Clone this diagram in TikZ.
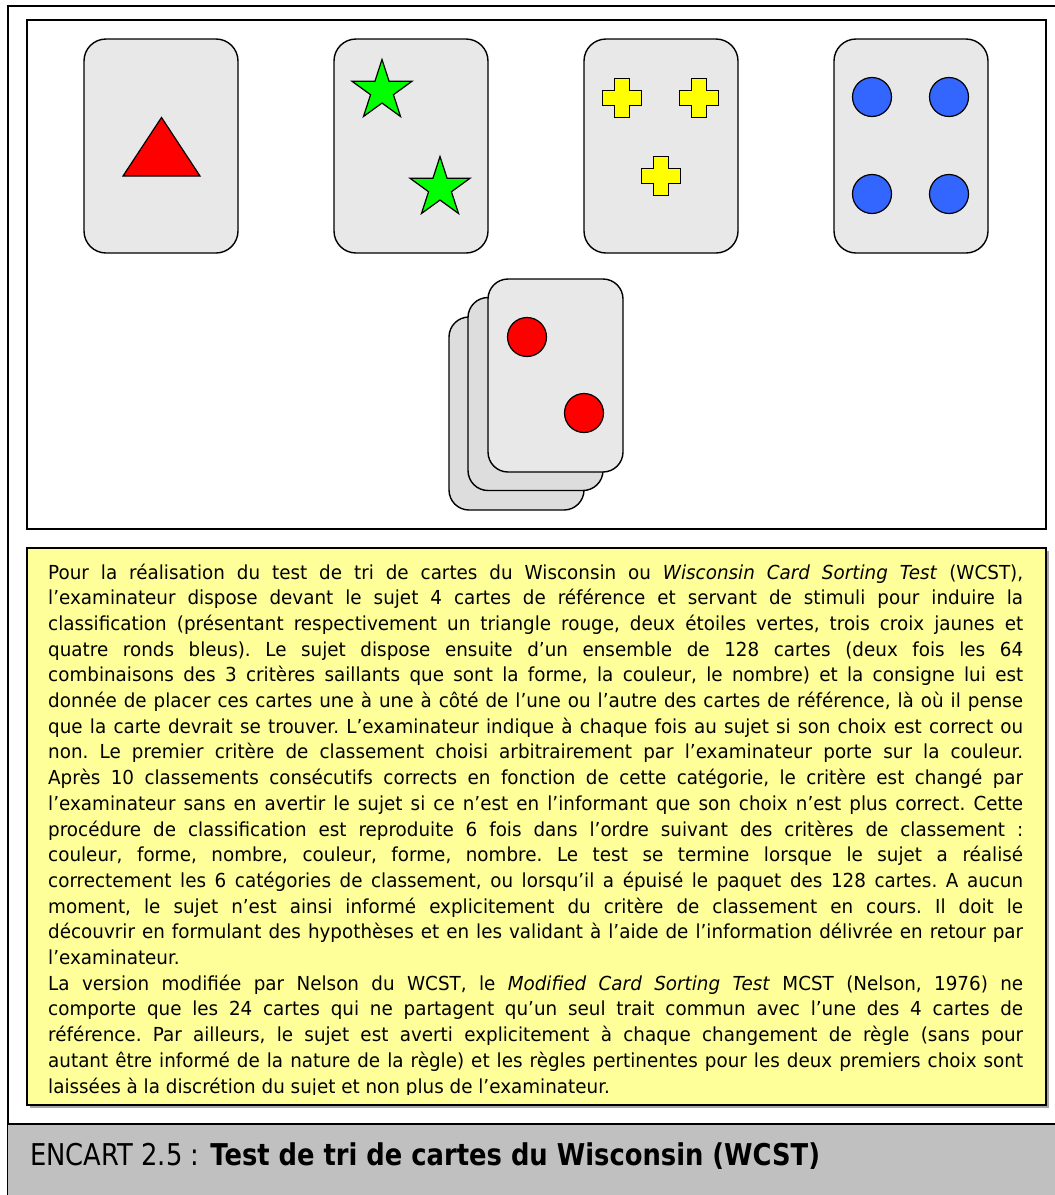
\documentclass[tikz,border=0pt]{standalone}
\usepackage{fontspec}
\setmainfont[FakeStretch=0.95]{DejaVu Sans}
\newfontfamily\capfont[FakeStretch=0.86]{DejaVu Sans}
\usetikzlibrary{shapes.geometric}
\definecolor{cardfill}{HTML}{E8E8E8}
\definecolor{cardback}{HTML}{DDDDDD}
\definecolor{notebg}{HTML}{FFFF99}
\definecolor{bandgray}{HTML}{C0C0C0}
\definecolor{stargreen}{HTML}{00FF00}
\definecolor{crossyellow}{HTML}{FFFF00}
\definecolor{dotblue}{HTML}{3366FF}
\definecolor{dotred}{HTML}{FF0000}
\tikzset{
  card/.style={draw=black, line width=1.4pt, fill=cardfill, rounded corners=22pt,
    minimum width=154pt, minimum height=214pt, inner sep=0pt},
  stackcard/.style={card, minimum width=135pt, minimum height=193pt, rounded corners=20pt},
  symb/.style={draw=black, line width=1.2pt},
  dot/.style={symb, circle, minimum size=39pt, inner sep=0pt},
  starsym/.style={symb, fill=stargreen, star, star points=5, star point ratio=2.618,
    minimum size=63pt, inner sep=0pt},
  crosspic/.pic={\draw[symb, fill=crossyellow] (-7.5,-19.5) -- (7.5,-19.5) -- (7.5,-7.5)
    -- (19.5,-7.5) -- (19.5,7.5) -- (7.5,7.5) -- (7.5,19.5) -- (-7.5,19.5) -- (-7.5,7.5)
    -- (-19.5,7.5) -- (-19.5,-7.5) -- (-7.5,-7.5) -- cycle;},
  frame/.style={draw=black, line width=2pt},
}
\begin{document}
\begin{tikzpicture}[x=1pt,y=-1pt]
\useasboundingbox (0,0) rectangle (1055,1195);
\clip (0,0) rectangle (1055,1195);
\fill[white] (0,0) rectangle (1055,1195);
% outer frame (runs off the right and bottom edges)
\draw[line width=2.7pt] (8,1230) -- (8,6) -- (1090,6);
% caption band
\fill[bandgray] (8,1124) rectangle (1090,1230);
\draw[line width=2.7pt] (8,1124) -- (1090,1124);
\node[anchor=base west, inner sep=0pt, font=\capfont\fontsize{30}{36}\selectfont] (caption) at (30,1165)
  {ENCART 2.5 : \textbf{Test de tri de cartes du Wisconsin (WCST)}};
% picture frame
\draw[frame] (27,20) rectangle (1046,529);
% reference cards
\node[card] (c1) at (161,146) {};
\node[card] (c2) at (411,146) {};
\node[card] (c3) at (661,146) {};
\node[card] (c4) at (911,146) {};
\draw[symb, fill=dotred, line join=miter] (123,176) -- (161.5,117.5) -- (200,176) -- cycle;
\node[starsym] (s1) at (382,91) {};
\node[starsym] (s2) at (440,188) {};
\pic at (622,98) {crosspic};
\pic at (699,98) {crosspic};
\pic at (661,176) {crosspic};
\node[dot, fill=dotblue] (b1) at (872,97) {};
\node[dot, fill=dotblue] (b2) at (949,97) {};
\node[dot, fill=dotblue] (b3) at (872,194) {};
\node[dot, fill=dotblue] (b4) at (949,194) {};
% deck of response cards
\node[stackcard, fill=cardback] (d3) at (516.5,413.5) {};
\node[stackcard, fill=cardback] (d2) at (535.5,394) {};
\node[stackcard] (d1) at (555.5,375.5) {};
\node[dot, fill=dotred] (r1) at (527,337) {};
\node[dot, fill=dotred] (r2) at (584,413) {};
% text box
\fill[black!35] (30,551) rectangle (1049,1108);
\draw[fill=notebg, line width=1.6pt] (27,548) rectangle (1046,1105);
\begin{scope}
\clip (27,548) rectangle (1046,1094.5);
\node[anchor=base west, inner sep=0pt, text width=975pt, align=justify,
  font=\fontsize{19.3}{25.7}\selectfont] (txt) at (48,579) {%
\tolerance=10000\hbadness=10000\hyphenpenalty=10000\parindent=0pt\frenchspacing
Pour la réalisation du test de tri de cartes du Wisconsin ou \textit{Wisconsin Card Sorting Test} (WCST),\linebreak
l’examinateur dispose devant le sujet 4 cartes de référence et servant de stimuli pour induire la\linebreak
classification (présentant respectivement un triangle rouge, deux étoiles vertes, trois croix jaunes et\linebreak
quatre ronds bleus). Le sujet dispose ensuite d’un ensemble de 128 cartes (deux fois les 64\linebreak
combinaisons des 3 critères saillants que sont la forme, la couleur, le nombre) et la consigne lui est\linebreak
donnée de placer ces cartes une à une à côté de l’une ou l’autre des cartes de référence, là où il pense\linebreak
que la carte devrait se trouver. L’examinateur indique à chaque fois au sujet si son choix est correct ou\linebreak
non. Le premier critère de classement choisi arbitrairement par l’examinateur porte sur la couleur.\linebreak
Après 10 classements consécutifs corrects en fonction de cette catégorie, le critère est changé par\linebreak
l’examinateur sans en avertir le sujet si ce n’est en l’informant que son choix n’est plus correct. Cette\linebreak
procédure de classification est reproduite 6 fois dans l’ordre suivant des critères de classement~:\linebreak
couleur, forme, nombre, couleur, forme, nombre. Le test se termine lorsque le sujet a réalisé\linebreak
correctement les 6 catégories de classement, ou lorsqu’il a épuisé le paquet des 128 cartes. A aucun\linebreak
moment, le sujet n’est ainsi informé explicitement du critère de classement en cours. Il doit le\linebreak
découvrir en formulant des hypothèses et en les validant à l’aide de l’information délivrée en retour par\linebreak
l’examinateur.\par
La version modifiée par Nelson du WCST, le \textit{Modified Card Sorting Test} MCST (Nelson, 1976) ne\linebreak
comporte que les 24 cartes qui ne partagent qu’un seul trait commun avec l’une des 4 cartes de\linebreak
référence. Par ailleurs, le sujet est averti explicitement à chaque changement de règle (sans pour\linebreak
autant être informé de la nature de la règle) et les règles pertinentes pour les deux premiers choix sont\linebreak
laissées à la discrétion du sujet et non plus de l’examinateur.};
\end{scope}
\end{tikzpicture}
\end{document}
